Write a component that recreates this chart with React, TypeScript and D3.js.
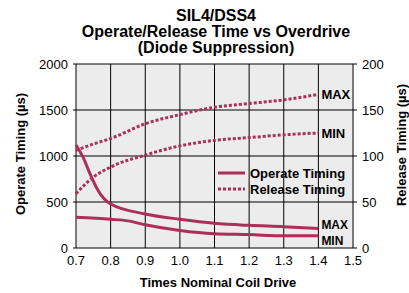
import React from 'react';
import * as d3 from 'd3';

// values
const drive = [0.7, 0.72, 0.74, 0.76, 0.78, 0.8, 0.9, 1.0, 1.1, 1.2, 1.3, 1.4];
const operateMax = [1120, 990, 810, 650, 540, 478, 370, 312, 268, 246, 232, 212];
const operateMinX = [0.7, 0.8, 0.85, 0.9, 1.0, 1.1, 1.2, 1.3, 1.4];
const operateMin = [333, 312, 295, 252, 190, 155, 146, 132, 134];
const releaseX = [0.7, 0.75, 0.8, 0.9, 1.0, 1.1, 1.2, 1.3, 1.4];
const releaseMax = [106, 113, 119, 135, 145, 153, 157, 161, 167];
const releaseMin = [59, 77, 88, 101, 111, 117, 120, 123, 125];
const xTicks = [0.7, 0.8, 0.9, 1.0, 1.1, 1.2, 1.3, 1.4, 1.5];
const leftTicks = [0, 500, 1000, 1500, 2000];
const rightTicks = [0, 50, 100, 150, 200];

const width = 409;
const height = 293;
const margin = { top: 64, right: 56, bottom: 45, left: 76 };
const lineColor = '#ad2f58';
const font = 'Liberation Sans, Arial, sans-serif';

const App: React.FC = () => {
  const x = d3.scaleLinear().domain([0.7, 1.5]).range([margin.left, width - margin.right]);
  const yL = d3.scaleLinear().domain([0, 2000]).range([height - margin.bottom, margin.top]);
  const yR = d3.scaleLinear().domain([0, 200]).range([height - margin.bottom, margin.top]);

  const lineL = d3.line<[number, number]>().x(d => x(d[0])).y(d => yL(d[1])).curve(d3.curveMonotoneX);
  const lineR = d3.line<[number, number]>().x(d => x(d[0])).y(d => yR(d[1])).curve(d3.curveMonotoneX);

  const zip = (xs: number[], ys: number[]) => xs.map((v, i) => [v, ys[i]] as [number, number]);

  const x0 = margin.left;
  const x1 = width - margin.right;
  const y0 = height - margin.bottom;
  const y1 = margin.top;
  const lastX = x(1.4);

  return (
    <svg width={width} height={height} style={{ position: 'absolute', left: 0, top: 0 }} fontFamily={font}>
      <rect width={width} height={height} fill="#fff" />
      <text textAnchor="middle" fontWeight="bold" fontSize={16}>
        <tspan x={216} y={21}>SIL4/DSS4</tspan>
        <tspan x={216} y={37}>Operate/Release Time vs Overdrive</tspan>
        <tspan x={216} y={53}>(Diode Suppression)</tspan>
      </text>

      <rect x={x0} y={y1} width={x1 - x0} height={y0 - y1} fill="#ececec" />
      {xTicks.map(t => (
        <line key={'gx' + t} x1={x(t)} x2={x(t)} y1={y1} y2={y0} stroke="#000" strokeWidth={1} />
      ))}
      {leftTicks.map(t => (
        <line key={'gy' + t} x1={x0 - 3} x2={x1 + 4} y1={yL(t)} y2={yL(t)} stroke="#000" strokeWidth={1} />
      ))}

      {leftTicks.map(t => (
        <text key={'lt' + t} x={x0 - 8} y={yL(t) + 4.5} textAnchor="end" fontSize={13}>{t}</text>
      ))}
      {rightTicks.map(t => (
        <text key={'rt' + t} x={x1 + 9} y={yR(t) + 4.5} textAnchor="start" fontSize={13}>{t}</text>
      ))}
      {xTicks.map(t => (
        <text key={'xt' + t} x={x(t)} y={y0 + 17} textAnchor="middle" fontSize={13}>{t.toFixed(1)}</text>
      ))}

      <path d={lineL(zip(drive, operateMax)) || ''} fill="none" stroke={lineColor} strokeWidth={3} />
      <path d={lineL(zip(operateMinX, operateMin)) || ''} fill="none" stroke={lineColor} strokeWidth={3} />
      <path d={lineR(zip(releaseX, releaseMax)) || ''} fill="none" stroke={lineColor} strokeWidth={3} strokeDasharray="3,2" />
      <path d={lineR(zip(releaseX, releaseMin)) || ''} fill="none" stroke={lineColor} strokeWidth={3} strokeDasharray="3,2" />

      <g fontWeight="bold" fontSize={13}>
        <text x={lastX + 3} y={yR(releaseMax[releaseMax.length - 1]) + 5}>MAX</text>
        <text x={lastX + 3} y={yR(releaseMin[releaseMin.length - 1]) + 5}>MIN</text>
      </g>
      <g fontWeight="bold" fontSize={12}>
        <text x={lastX + 3} y={yL(operateMax[operateMax.length - 1]) + 1}>MAX</text>
        <text x={lastX + 3} y={yL(operateMin[operateMin.length - 1]) + 9}>MIN</text>
      </g>

      <g fontWeight="bold" fontSize={13}>
        <line x1={218} x2={245} y1={173} y2={173} stroke={lineColor} strokeWidth={3} />
        <text x={250} y={177.5}>Operate Timing</text>
        <line x1={218} x2={245} y1={189} y2={189} stroke={lineColor} strokeWidth={3} strokeDasharray="3,2" />
        <text x={250} y={193.5}>Release Timing</text>
      </g>

      <text x={218} y={287} textAnchor="middle" fontWeight="bold" fontSize={13}>Times Nominal Coil Drive</text>
      <text transform={`translate(25,154) rotate(-90)`} textAnchor="middle" fontWeight="bold" fontSize={13}>
        Operate Timing (µs)
      </text>
      <text transform={`translate(406,145) rotate(-90)`} textAnchor="middle" fontWeight="bold" fontSize={13}>
        Release Timing (µs)
      </text>
    </svg>
  );
};

export default App;
